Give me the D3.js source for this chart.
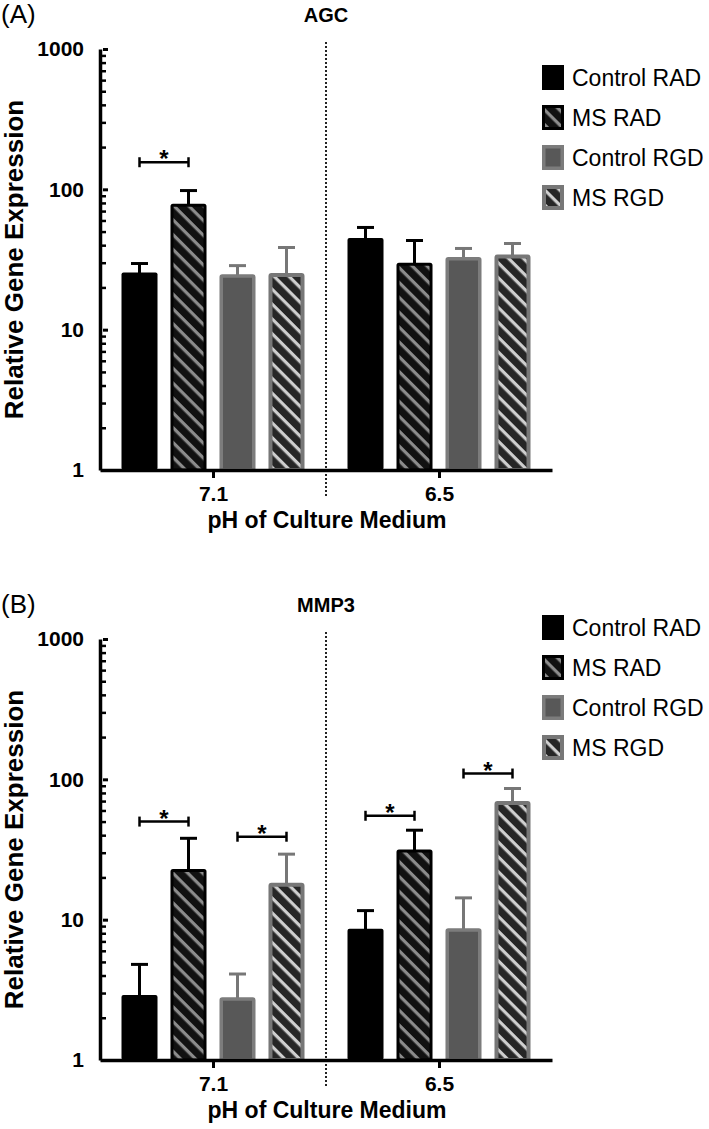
<!DOCTYPE html>
<html>
<head>
<meta charset="utf-8">
<style>
  body { margin: 0; background: #fff; }
  svg { display: block; font-family: "Liberation Sans", Arial, sans-serif; }
  .tick text { font-weight: bold; }
</style>
<title>AGC and MMP3 relative gene expression</title>
</head>
<body>
<script src="https://cdn.jsdelivr.net/npm/d3@7"></script>
<script>

// data
var groups = ["7.1", "6.5"];
var series = ["Control RAD", "MS RAD", "Control RGD", "MS RGD"];
var yTicks = [1, 10, 100, 1000];

// means and upper end of error bars, per pH group, in series order
var agcMean = [[25.5, 79, 24.8, 25.3], [45, 30, 33, 34.3]];
var agcErr = [[29.6, 98, 28.6, 38.5], [53.5, 43.2, 37.9, 41.1]];
var mmp3Mean = [[2.9, 23, 2.8, 18.3], [8.6, 31.6, 8.7, 70]];
var mmp3Err = [[4.8, 38, 4.1, 29.3], [11.6, 43.4, 14.3, 86]];

// significance brackets: group, first series, second series, height
var agcSig = [["7.1", 0, 1, 156]];
var mmp3Sig = [["7.1", 0, 1, 50], ["7.1", 2, 3, 39], ["6.5", 0, 1, 55], ["6.5", 2, 3, 110]];

var panels = [
	{ tag: "(A)", title: "AGC", mean: agcMean, err: agcErr, sig: agcSig, top: 0, legendTop: 65 },
	{ tag: "(B)", title: "MMP3", mean: mmp3Mean, err: mmp3Err, sig: mmp3Sig, top: 590, legendTop: 615 }
];

var barStyle = [
	{ fill: "#000", stroke: "none", sw: 0 },
	{ fill: "url(#stripeDark)", stroke: "#000", sw: 3 },
	{ fill: "#585858", stroke: "#7c7c7c", sw: 3.5 },
	{ fill: "url(#stripeLight)", stroke: "#777", sw: 4 }
];
var errColor = ["#000", "#000", "#777", "#777"];

var width = 709, height = 1129;
var xLeft = 100, xRight = 552;

var svg = d3.select("body").append("svg")
	.attr("width", width)
	.attr("height", height);

svg.append("rect").attr("width", width).attr("height", height).attr("fill", "#fff");

// stripe patterns
var defs = svg.append("defs");
function stripes(id, bg, fg) {
	var p = defs.append("pattern")
		.attr("id", id)
		.attr("patternUnits", "userSpaceOnUse")
		.attr("width", 10.5).attr("height", 10.5)
		.attr("patternTransform", "rotate(45)");
	p.append("rect").attr("width", 10.5).attr("height", 10.5).attr("fill", bg);
	p.append("rect").attr("y", 0).attr("width", 10.5).attr("height", 3.2).attr("fill", fg);
}
stripes("stripeDark", "#111", "#8c8c8c");
stripes("stripeLight", "#262626", "#cfcfcf");

var x0 = d3.scalePoint()
	.domain(groups)
	.range([xLeft, xRight])
	.padding(0.5);

var x1 = d3.scaleBand()
	.domain(d3.range(series.length))
	.range([-91.5, 91.5])
	.paddingInner(0.265);

panels.forEach(function (panel) {
	var top = panel.top;
	var y = d3.scaleLog()
		.domain([1, 1000])
		.range([top + 470, top + 49]);

	var g = svg.append("g");

	// panel tag and title
	g.append("text")
		.attr("x", 1).attr("y", top + 23)
		.attr("font-size", 26)
		.text(panel.tag);

	var mid = (x0(groups[0]) + x0(groups[1])) / 2;
	g.append("text")
		.attr("x", mid).attr("y", top + 22)
		.attr("text-anchor", "middle")
		.attr("font-size", 20).attr("font-weight", "bold")
		.text(panel.title);

	// divider
	g.append("line")
		.attr("x1", mid).attr("x2", mid)
		.attr("y1", top + 42).attr("y2", top + 498)
		.attr("stroke", "#222")
		.attr("stroke-width", 2)
		.attr("stroke-dasharray", "2,2");

	// bars
	var rows = [];
	groups.forEach(function (grp, gi) {
		series.forEach(function (s, si) {
			rows.push({ group: grp, si: si, mean: panel.mean[gi][si], err: panel.err[gi][si] });
		});
	});

	var bars = g.selectAll("g.bar")
		.data(rows)
		.enter().append("g")
		.attr("class", "bar");

	// error bars
	bars.append("line")
		.attr("x1", function (d) { return x0(d.group) + x1(d.si) + x1.bandwidth() / 2; })
		.attr("x2", function (d) { return x0(d.group) + x1(d.si) + x1.bandwidth() / 2; })
		.attr("y1", function (d) { return y(d.mean) + 4; })
		.attr("y2", function (d) { return y(d.err); })
		.attr("stroke", function (d) { return errColor[d.si]; })
		.attr("stroke-width", 3);

	bars.append("line")
		.attr("x1", function (d) { return x0(d.group) + x1(d.si) + x1.bandwidth() / 2 - 8.5; })
		.attr("x2", function (d) { return x0(d.group) + x1(d.si) + x1.bandwidth() / 2 + 8.5; })
		.attr("y1", function (d) { return y(d.err); })
		.attr("y2", function (d) { return y(d.err); })
		.attr("stroke", function (d) { return errColor[d.si]; })
		.attr("stroke-width", 3);

	bars.append("rect")
		.attr("x", function (d) { return x0(d.group) + x1(d.si) + barStyle[d.si].sw / 2; })
		.attr("y", function (d) { return y(d.mean) + barStyle[d.si].sw / 2; })
		.attr("width", function (d) { return x1.bandwidth() - barStyle[d.si].sw; })
		.attr("height", function (d) { return y(1) - y(d.mean) - barStyle[d.si].sw / 2; })
		.attr("rx", function (d) { return d.si == 0 ? 2 : 1; })
		.attr("fill", function (d) { return barStyle[d.si].fill; })
		.attr("stroke", function (d) { return barStyle[d.si].stroke; })
		.attr("stroke-width", function (d) { return barStyle[d.si].sw; });

	// significance brackets
	var sig = g.selectAll("g.sig")
		.data(panel.sig)
		.enter().append("g")
		.attr("class", "sig");

	function cx(d, k) { return x0(d[0]) + x1(d[k]) + x1.bandwidth() / 2; }

	sig.append("line")
		.attr("x1", function (d) { return cx(d, 1); })
		.attr("x2", function (d) { return cx(d, 2); })
		.attr("y1", function (d) { return y(d[3]); })
		.attr("y2", function (d) { return y(d[3]); })
		.attr("stroke", "#000").attr("stroke-width", 2.5);
	[1, 2].forEach(function (k) {
		sig.append("line")
			.attr("x1", function (d) { return cx(d, k); })
			.attr("x2", function (d) { return cx(d, k); })
			.attr("y1", function (d) { return y(d[3]) - 5; })
			.attr("y2", function (d) { return y(d[3]) + 5; })
			.attr("stroke", "#000").attr("stroke-width", 2.5);
	});
	sig.append("text")
		.attr("x", function (d) { return (cx(d, 1) + cx(d, 2)) / 2; })
		.attr("y", function (d) { return y(d[3]) + 5; })
		.attr("text-anchor", "middle")
		.attr("font-size", 24).attr("font-weight", "bold")
		.text("*");

	// y axis: minor ticks, then major ticks with labels
	var minor = y.ticks().filter(function (v) { return yTicks.indexOf(v) < 0; });
	var yMinor = g.append("g")
		.attr("transform", "translate(" + xLeft + ",0)")
		.call(d3.axisLeft(y).tickValues(minor).tickSize(-6).tickSizeOuter(0).tickFormat(""));
	yMinor.selectAll(".tick line").attr("stroke-width", 2.5);
	yMinor.select(".domain").remove();

	var yAxis = g.append("g")
		.attr("transform", "translate(" + xLeft + ",0)")
		.call(d3.axisLeft(y).tickValues(yTicks).tickSize(-8).tickSizeOuter(0).tickPadding(16).tickFormat(d3.format("d")));
	yAxis.selectAll(".tick line").attr("stroke-width", 3).attr("x1", 3);
	yAxis.select(".domain").attr("stroke-width", 3.5);
	yAxis.selectAll(".tick text").attr("font-size", 21).attr("fill", "#000");

	// x axis
	var xAxis = g.append("g")
		.attr("transform", "translate(0," + y(1) + ")")
		.call(d3.axisBottom(x0).tickSize(8).tickSizeOuter(0).tickPadding(8));
	xAxis.select(".domain").attr("stroke-width", 3.5);
	xAxis.selectAll(".tick line").attr("stroke-width", 3);
	xAxis.selectAll(".tick text").attr("font-size", 21).attr("fill", "#000");

	g.append("text")
		.attr("x", mid + 1).attr("y", top + 528)
		.attr("text-anchor", "middle")
		.attr("font-size", 23).attr("font-weight", "bold")
		.text("pH of Culture Medium");

	g.append("text")
		.attr("transform", "translate(23," + (y(1) + y(1000)) / 2 + ") rotate(-90)")
		.attr("text-anchor", "middle")
		.attr("font-size", 26).attr("font-weight", "bold")
		.text("Relative Gene Expression");

	// legend
	var legend = g.selectAll("g.legend")
		.data(series)
		.enter().append("g")
		.attr("class", "legend")
		.attr("transform", function (d, i) { return "translate(542," + (panel.legendTop + i * 40) + ")"; });

	legend.append("rect")
		.attr("x", function (d, i) { return barStyle[i].sw / 2; })
		.attr("y", function (d, i) { return barStyle[i].sw / 2; })
		.attr("width", function (d, i) { return 22 - barStyle[i].sw; })
		.attr("height", function (d, i) { return 25 - barStyle[i].sw; })
		.attr("fill", function (d, i) { return barStyle[i].fill; })
		.attr("stroke", function (d, i) { return barStyle[i].stroke; })
		.attr("stroke-width", function (d, i) { return barStyle[i].sw; });

	legend.append("text")
		.attr("x", 30).attr("y", 21)
		.attr("font-size", 23)
		.text(function (d) { return d; });
});
</script>
</body>
</html>
